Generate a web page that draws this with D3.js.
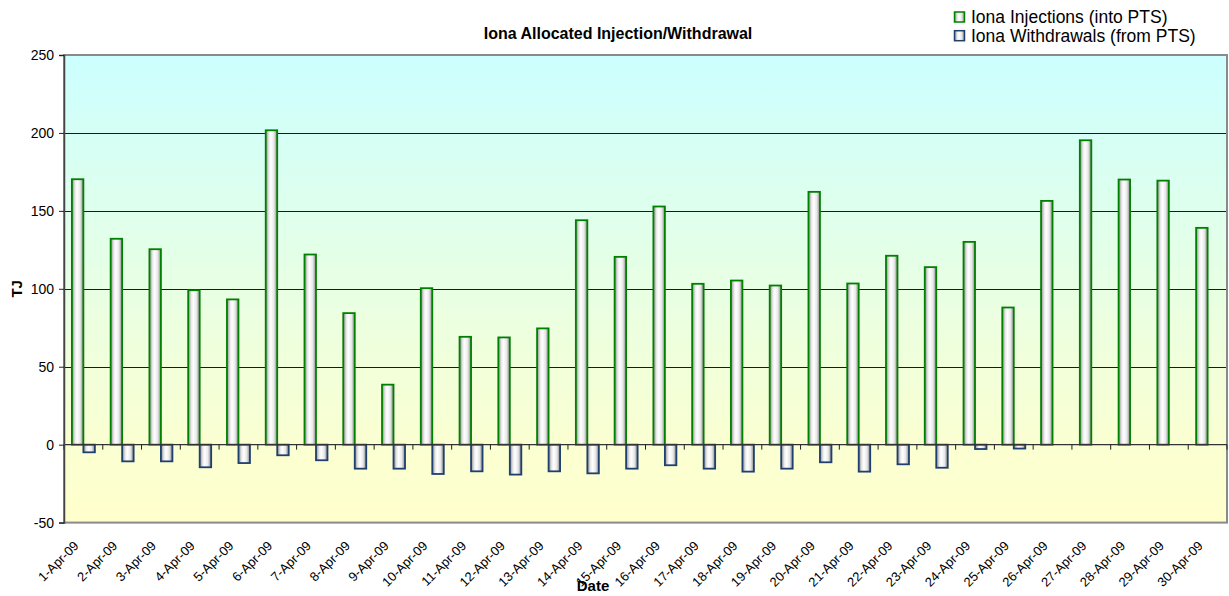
<!DOCTYPE html>
<html>
<head>
<meta charset="utf-8">
<script src="https://cdn.jsdelivr.net/npm/d3@7"></script>
<style>
  html, body { margin: 0; padding: 0; background: #ffffff; }
  svg { display: block; font-family: Arial, "Liberation Sans", sans-serif; }
</style>
</head>
<body>
<svg id="chart" width="1229" height="596"></svg>
<script>
const categories = ["1-Apr-09","2-Apr-09","3-Apr-09","4-Apr-09","5-Apr-09","6-Apr-09","7-Apr-09","8-Apr-09","9-Apr-09","10-Apr-09",
  "11-Apr-09","12-Apr-09","13-Apr-09","14-Apr-09","15-Apr-09","16-Apr-09","17-Apr-09","18-Apr-09","19-Apr-09","20-Apr-09",
  "21-Apr-09","22-Apr-09","23-Apr-09","24-Apr-09","25-Apr-09","26-Apr-09","27-Apr-09","28-Apr-09","29-Apr-09","30-Apr-09"];
const injections = [170.3,132.1,125.4,99.1,93.2,201.7,122.0,84.4,38.5,100.4,
  69.2,68.8,74.6,144.0,120.5,152.8,103.2,105.3,102.1,162.2,
  103.4,121.2,113.9,130.1,88.0,156.4,195.3,170.1,169.4,139.1];
const withdrawals = [-4.9,-10.7,-10.7,-14.5,-11.8,-6.8,-10.0,-15.4,-15.4,-18.8,
  -17.1,-19.2,-17.1,-18.4,-15.4,-13.2,-15.4,-17.3,-15.4,-11.3,
  -17.3,-12.6,-14.8,-2.8,-2.5,0,0,0,0,0];
const yTicks = [-50,0,50,100,150,200,250];
const seriesNames = ["Iona Injections (into PTS)","Iona Withdrawals (from PTS)"];
const chartTitle = "Iona Allocated Injection/Withdrawal";
const xTitle = "Date";
const yTitle = "TJ";

(function(){
const svg = d3.select("#chart");
const pL = 64, pR = 1227, pT = 55, pB = 522.6;

const x = d3.scaleBand().domain(categories).range([pL, pR]).paddingInner(0).paddingOuter(0);
const sub = d3.scaleBand().domain(["inj","wd"]).range([0, x.bandwidth()]).paddingInner(0).paddingOuter(0.686);
const y = d3.scaleLinear().domain([-50, 250]).range([pB, pT]);

const defs = svg.append("defs");
const bg = defs.append("linearGradient").attr("id","bg").attr("x1",0).attr("y1",0).attr("x2",0).attr("y2",1);
bg.append("stop").attr("offset","0%").attr("stop-color","#CCFFFF");
bg.append("stop").attr("offset","82%").attr("stop-color","#FAFFD2");
bg.append("stop").attr("offset","100%").attr("stop-color","#FFFFCC");

const bf = defs.append("linearGradient").attr("id","barfill").attr("x1",0).attr("y1",0).attr("x2",1).attr("y2",0);
bf.append("stop").attr("offset","0%").attr("stop-color","#8a8a8a");
bf.append("stop").attr("offset","28%").attr("stop-color","#ebebeb");
bf.append("stop").attr("offset","45%").attr("stop-color","#ffffff");
bf.append("stop").attr("offset","72%").attr("stop-color","#e8e8e8");
bf.append("stop").attr("offset","100%").attr("stop-color","#858585");

svg.append("rect").attr("x", pL).attr("y", pT).attr("width", pR-pL).attr("height", pB-pT)
  .attr("fill","url(#bg)");

svg.append("g").selectAll("line").data(yTicks.filter(d => d !== 0 && d !== -50 && d !== 250)).join("line")
  .attr("x1", pL).attr("x2", pR).attr("y1", d => Math.round(y(d))+0.5).attr("y2", d => Math.round(y(d))+0.5)
  .attr("stroke","#1a1a1a").attr("stroke-width",1);

svg.append("rect").attr("x", pL).attr("y", pT).attr("width", pR-pL).attr("height", pB-pT)
  .attr("fill","none").attr("stroke","#8a8a8a").attr("stroke-width",2);

const g = svg.append("g");
g.selectAll("rect.inj").data(categories).join("rect").attr("class","inj")
  .attr("x", d => x(d) + sub("inj")).attr("width", sub.bandwidth())
  .attr("y", (d,i) => y(Math.max(0, injections[i]))).attr("height", (d,i) => Math.abs(y(injections[i]) - y(0)))
  .attr("fill","url(#barfill)").attr("stroke","#008000").attr("stroke-width",1.8);
g.selectAll("rect.wd").data(categories.filter((d,i) => withdrawals[i] !== 0)).join("rect").attr("class","wd")
  .attr("x", d => x(d) + sub("wd")).attr("width", sub.bandwidth())
  .attr("y", y(0)).attr("height", d => Math.abs(y(withdrawals[categories.indexOf(d)]) - y(0)))
  .attr("fill","url(#barfill)").attr("stroke","#1F3F6F").attr("stroke-width",1.8);

svg.append("line").attr("x1", pL).attr("x2", pR).attr("y1", y(0)).attr("y2", y(0))
  .attr("stroke","#333").attr("stroke-width",1.2);
const tickXs = categories.map(d => x(d)).concat([pR]);
svg.append("g").selectAll("line").data(tickXs).join("line")
  .attr("x1", d => d).attr("x2", d => d)
  .attr("y1", y(0)).attr("y2", y(0) + 5)
  .attr("stroke","#222").attr("stroke-width",1);

const yAxis = d3.axisLeft(y).tickValues(yTicks).tickSize(5).tickPadding(5).tickFormat(d => String(d));
const ya = svg.append("g").attr("transform", `translate(${pL},0)`).call(yAxis);
ya.select(".domain").attr("stroke","#444").attr("stroke-width",1.5);
ya.selectAll(".tick line").attr("stroke","#222");
ya.selectAll(".tick text").attr("font-size","14px").attr("fill","#000").attr("font-family","Arial, 'Liberation Sans', sans-serif");

svg.append("g").selectAll("text").data(categories).join("text")
  .attr("transform", d => `translate(${x(d) + x.bandwidth()/2 - 4},${pB + 24}) rotate(-45)`)
  .attr("text-anchor","end").attr("font-size","13px").attr("fill","#000")
  .text(d => d);

svg.append("text").attr("x", 618).attr("y", 39).attr("text-anchor","middle")
  .attr("font-size","16px").attr("font-weight","bold").text(chartTitle);
svg.append("text").attr("x", 593).attr("y", 591).attr("text-anchor","middle")
  .attr("font-size","15px").attr("font-weight","bold").text(xTitle);
svg.append("text").attr("transform", `translate(22,${(pT+pB)/2}) rotate(-90)`).attr("text-anchor","middle")
  .attr("font-size","15px").attr("font-weight","bold").text(yTitle);

const legColors = ["#008000","#1F3F6F"];
const leg = svg.append("g");
seriesNames.forEach((name, i) => {
  const yy = 12 + i * 18.7;
  leg.append("rect").attr("x", 954.5).attr("y", yy).attr("width", 10).attr("height", 10)
    .attr("fill","url(#barfill)").attr("stroke", legColors[i]).attr("stroke-width",1.5);
  leg.append("text").attr("x", 971).attr("y", yy + 11).attr("font-size","17.5px").attr("fill","#000").text(name);
});
})();
</script>
</body>
</html>
